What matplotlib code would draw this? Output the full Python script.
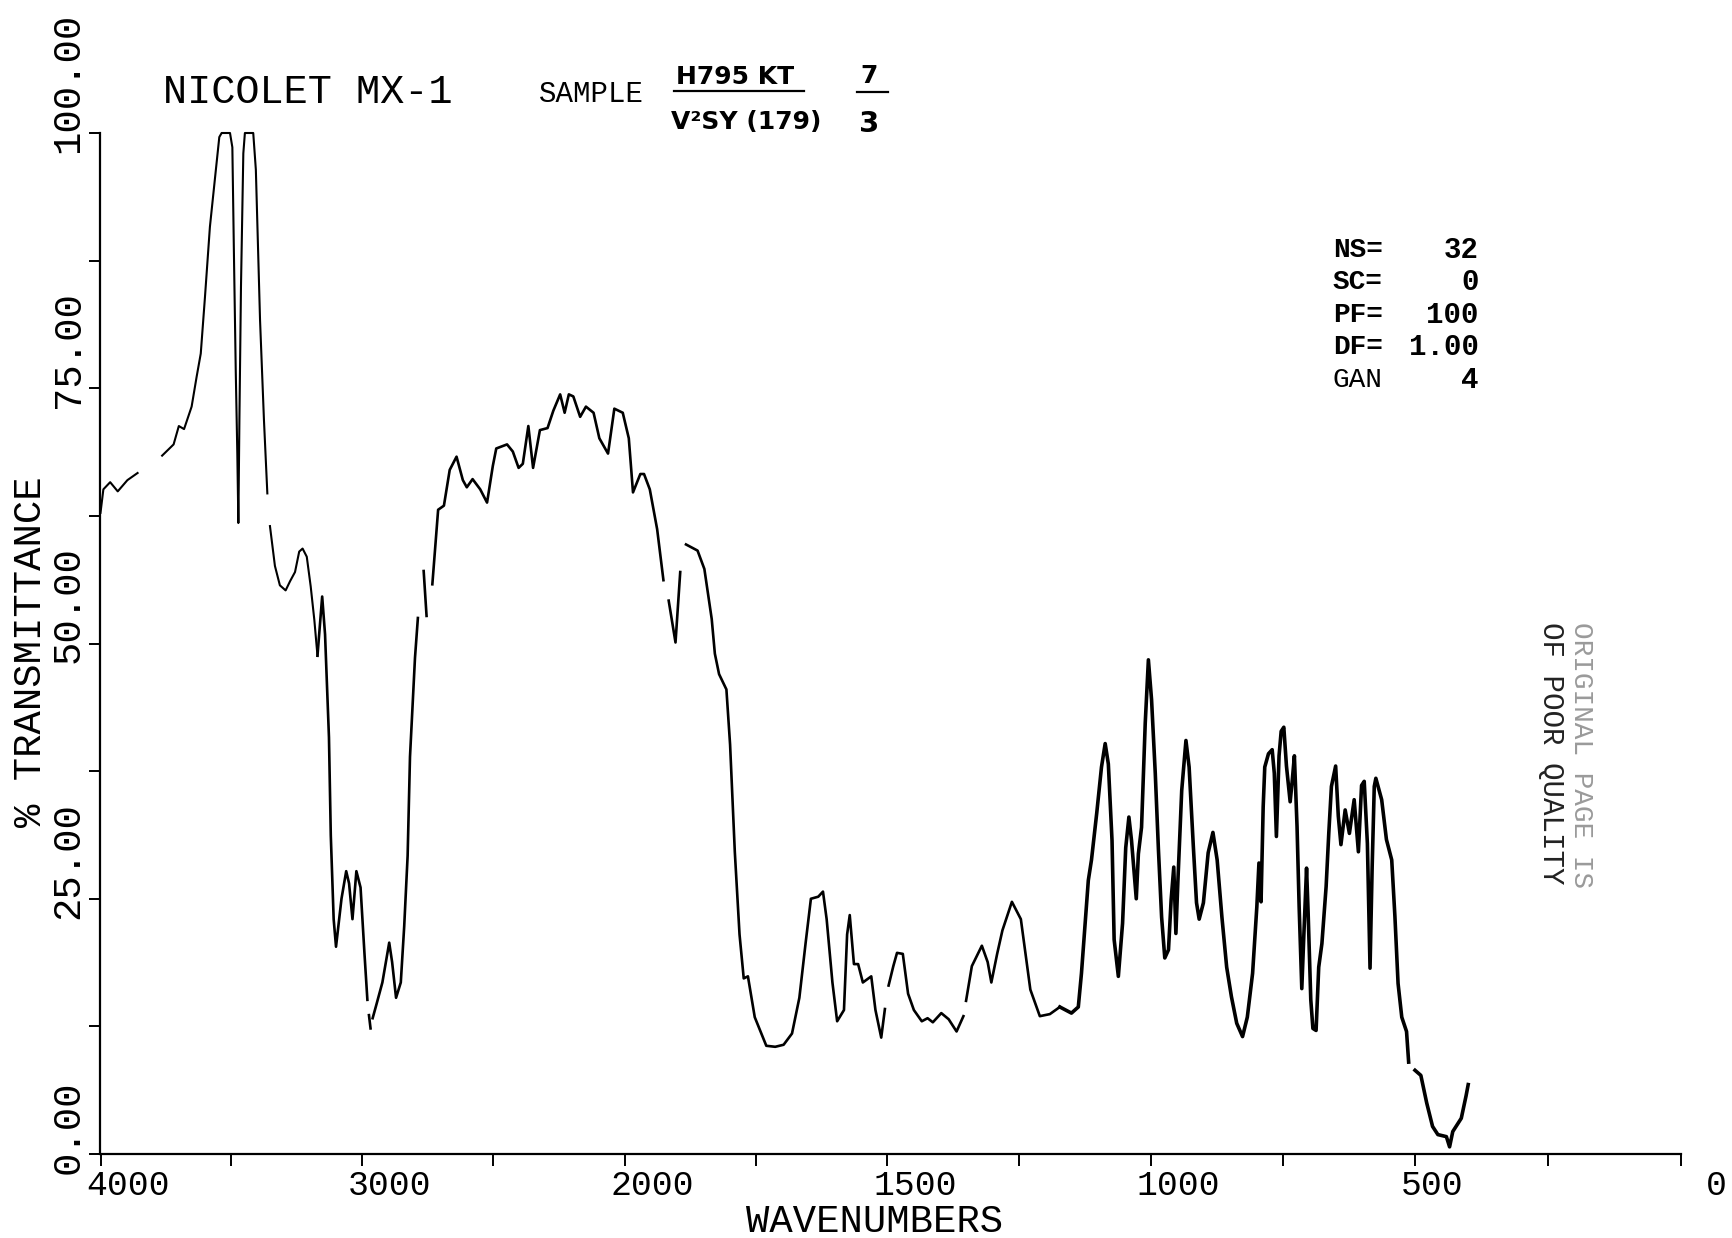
import numpy as np
import matplotlib
matplotlib.use("Agg")
import matplotlib.pyplot as plt
from matplotlib.lines import Line2D
from matplotlib.transforms import ScaledTranslation

plt.rcParams['font.family'] = ['Liberation Mono', 'DejaVu Sans Mono']

W, H = 1733, 1238

# nan = pen gap in the old plot
nan = float('nan')

# O-H region, thin pen
wn_a = [
    4000, 3989, 3963, 3934, 3897, 3858, 3835, 3803, 3790, 3764, 3720, 3700, 3680, 3651, 3632, 3616,
    3600, 3581, 3561, 3545, 3536, 3504, 3495, 3489, 3482, 3476, 3472, 3468, 3462, 3453, 3447,
    3415, 3405, 3389, 3374, 3361, 3358, 3351, 3332, 3313, 3291, 3274, 3255, 3239, 3226, 3210, 3195,
    3181, 3169,
]
t_a = [
    62.8, 65.1, 65.8, 64.9, 66.0, 66.7, nan, 67.2, nan, 68.4, 69.5, 71.3, 71.0, 73.2, 76.1, 78.4,
    83.9, 90.8, 95.7, 99.6, 100, 100, 98.6, 88.2, 76.7, 68.6, 61.8, 71.9, 84.9, 98.0, 100,
    100, 96.4, 81.7, 71.9, 64.7, nan, 61.5, 57.6, 55.7, 55.2, 56.1, 57.0, 59.0, 59.3, 58.5, 55.6,
    52.3, 48.8,
]

# middle of the trace
wn_b = [
    3169, 3151, 3140, 3125, 3118, 3107,
    3098, 3077, 3059, 3048, 3035, 3020, 3004, 2989, 2978, 2975, 2972, 2966, 2962, 2958, 2943, 2921, 2895,
    2884, 2869, 2851, 2838, 2825, 2816, 2797, 2786, 2775, 2764, 2753, 2742, 2731, 2709, 2687,
    2665, 2639, 2615, 2600, 2578, 2549, 2523, 2501, 2488, 2447, 2425, 2403, 2387, 2366,
    2348, 2322, 2293, 2271, 2245, 2228, 2212, 2195, 2169, 2147, 2118, 2096, 2063, 2039,
    2007, 1992, 1984, 1970, 1963, 1952, 1938, 1926, 1920, 1916, 1903, 1894, 1888, 1883, 1861,
    1848, 1834, 1828, 1820, 1806, 1799, 1790, 1781, 1773, 1765, 1752, 1730, 1713, 1697,
    1681, 1667, 1655, 1645, 1631, 1622, 1615, 1604, 1595, 1582, 1576, 1571, 1563, 1555,
    1546, 1530, 1522, 1511, 1504, 1501, 1497, 1488, 1481, 1470, 1460, 1449, 1434, 1423, 1413,
    1397, 1383, 1368, 1355, 1352, 1350, 1339, 1320, 1309, 1302, 1291, 1281, 1263, 1246,
    1228, 1210, 1191, 1172,
]
t_b = [
    48.8, 54.6, 50.9, 40.8, 31.2, 23.0,
    20.3, 25.0, 27.7, 26.5, 23.0, 27.7, 26.1, 19.6, 15.1, nan, 13.6, 12.3, nan, 13.3, 14.7, 16.8, 20.7,
    18.8, 15.3, 16.8, 22.3, 29.2, 38.9, 48.6, 52.5, nan, 57.1, 52.7, nan, 55.8, 63.1, 63.5,
    67.0, 68.3, 66.0, 65.3, 66.1, 65.1, 63.8, 67.4, 69.1, 69.5, 68.8, 67.2, 67.6, 71.3,
    67.2, 70.9, 71.1, 72.8, 74.4, 72.6, 74.4, 74.2, 72.2, 73.2, 72.6, 70.1, 68.6, 73.0,
    72.6, 70.1, 64.8, 66.6, 66.6, 65.1, 61.2, 56.2, nan, 54.2, 50.1, 57.0, nan, 59.7, 59.1,
    57.3, 52.4, 49.0, 47.0, 45.5, 40.1, 29.6, 21.5, 17.2, 17.4, 13.4, 10.6, 10.5, 10.7,
    11.8, 15.3, 20.7, 25.0, 25.2, 25.7, 23.0, 16.8, 13.0, 14.1, 21.5, 23.4, 18.6, 18.6,
    16.8, 17.4, 14.1, 11.4, 14.2, nan, 16.5, 18.4, 19.7, 19.6, 15.7, 14.1, 13.0, 13.3, 12.9,
    13.8, 13.2, 12.0, 13.5, nan, 15.0, 18.4, 20.4, 18.8, 16.8, 19.6, 21.9, 24.7, 23.0,
    16.1, 13.5, 13.7, 14.4,
]

# fingerprint region, heavier pen
wn_c = [
    1172, 1150, 1137, 1131, 1118, 1112, 1102, 1093, 1086, 1080, 1073, 1069, 1061, 1053, 1047,
    1041, 1036, 1027, 1023, 1017, 1010, 1004, 998, 991, 985, 979, 973, 966, 961, 956, 952, 948,
    941, 933, 927, 919, 913, 908, 900, 891, 882, 874, 865, 856, 847, 837, 826, 817, 807, 799,
    795, 791, 787, 784, 777, 770, 766, 762, 757, 753, 748, 743, 736, 732, 728, 723, 719, 714,
    710, 705, 702, 697, 693, 687, 682, 676, 668, 663, 658, 650, 645, 640, 632, 624, 615, 607,
    601, 596, 590, 585, 581, 577, 574, 563, 554, 544, 538, 532, 525, 516, 512, 505, 500, 489,
    478, 467, 457, 441, 435, 429, 413, 404, 400,
]
t_c = [
    14.4, 13.8, 14.4, 17.7, 26.8, 28.8, 33.4, 37.9, 40.2, 38.2, 30.7, 21.0, 17.4, 22.6, 30.0,
    33.0, 30.7, 25.0, 29.4, 32.0, 42.2, 48.4, 44.5, 37.3, 29.8, 23.2, 19.2, 20.0, 24.9, 28.1, 21.6, 27.0,
    35.6, 40.5, 37.9, 30.1, 24.6, 23.0, 24.6, 29.5, 31.5, 28.8, 23.2, 18.3, 15.4, 12.8, 11.5, 13.4, 17.7, 24.2,
    28.5, 24.7, 34.0, 37.9, 39.2, 39.6, 37.3, 31.1, 39.0, 41.4, 41.8, 38.0, 34.5, 36.6, 39.0, 32.1, 24.2, 16.2,
    21.6, 28.0, 23.6, 15.1, 12.3, 12.1, 18.3, 20.6, 26.2, 31.4, 36.0, 38.0, 33.1, 30.3, 33.7, 31.4, 34.7, 29.6,
    36.1, 36.5, 30.4, 18.2, 28.1, 36.0, 36.8, 34.7, 30.8, 28.8, 23.3, 16.7, 13.4, 12.0, 9.0, nan, 8.2, 7.7,
    5.0, 2.7, 1.9, 1.7, 0.7, 2.2, 3.5, 5.7, 6.8,
]

x_ticks = [4000, 3500, 3000, 2500, 2000, 1750, 1500, 1250, 1000, 750, 500, 250, 0]
x_labels = ['4000', '', '3000', '', '2000', '', '1500', '', '1000', '', '500', '', '0']
y_ticks = [0, 12.5, 25, 37.5, 50, 62.5, 75, 87.5, 100]
y_labels = ['0.00', '', '25.00', '', '50.00', '', '75.00', '', '100.00']

info_names = ['NS=', 'SC=', 'PF=', 'DF=', 'GAN']
info_values = ['32', '0', '100', '1.00', '4']

# the plotter changes scale at 2000 cm-1, pixel distances
scale_wn = [0, 500, 1000, 1500, 2000, 3000, 4000]
scale_pos = [0, 266, 530.5, 794, 1056.4, 1319.4, 1580.5]

def forward(v):
    return np.interp(v, scale_wn, scale_pos)

def inverse(v):
    return np.interp(v, scale_pos, scale_wn)

def fx(px):
    return px / W

def fy(px):
    return 1 - px / H

fig = plt.figure(figsize=(W / 100, H / 100), dpi=100)
ax = fig.add_axes([fx(100.5), fy(1154), (1681 - 100.5) / W, (1154 - 133) / H])
ax.set_xscale('function', functions=(forward, inverse))
ax.set_xlim(4000, 0)
ax.set_ylim(0, 100)

ax.plot(wn_a, t_a, color='black', lw=1.5, clip_on=False)
ax.plot(wn_b, t_b, color='black', lw=1.9, clip_on=False)
ax.plot(wn_c, t_c, color='black', lw=2.6, clip_on=False)

for s in ['top', 'right']:
    ax.spines[s].set_visible(False)
for s in ['left', 'bottom']:
    ax.spines[s].set_linewidth(1.6)

ax.set_xticks(x_ticks)
ax.set_xticklabels(x_labels, fontsize=25)
ax.minorticks_off()
ax.tick_params(axis='x', direction='out', length=8.5, width=1.4, pad=2)
ax.set_yticks(y_ticks)
ax.set_yticklabels(y_labels, fontsize=28, rotation=90, va='bottom')
ax.tick_params(axis='y', direction='out', length=8, width=1.4, pad=2)

# labels start just left of their tick, and "0" sits right of it
for lab in ax.get_xticklabels():
    lab.set_ha('left')
    dx = 25 if lab.get_text() == '0' else -14
    lab.set_transform(lab.get_transform() + ScaledTranslation(dx / 100, 0, fig.dpi_scale_trans))
for lab in ax.get_yticklabels():
    lab.set_transform(lab.get_transform() + ScaledTranslation(0, -20 / 100, fig.dpi_scale_trans))

fig.text(fx(875), fy(1222), 'WAVENUMBERS', fontsize=28, ha='center', va='center')
fig.text(fx(31), fy(652), '% TRANSMITTANCE', fontsize=28, rotation=90, ha='center', va='center')
fig.text(fx(163), fy(92), 'NICOLET MX-1', fontsize=29, ha='left', va='center')
fig.text(fx(539), fy(94), 'SAMPLE', fontsize=21, ha='left', va='center')

# handwritten sample id
fig.text(fx(676), fy(77), 'H795 KT', fontsize=18, weight='bold', family='DejaVu Sans', ha='left', va='center')
fig.text(fx(671), fy(122), 'V²SY (179)', fontsize=18, weight='bold', family='DejaVu Sans', ha='left', va='center')
fig.text(fx(869), fy(76), '7', fontsize=18, weight='bold', family='DejaVu Sans', ha='center', va='center')
fig.text(fx(869), fy(124), '3', fontsize=21, weight='bold', family='DejaVu Sans', ha='center', va='center')
fig.add_artist(Line2D([fx(674), fx(804)], [fy(91), fy(91)], color='black', lw=1.6))
fig.add_artist(Line2D([fx(857), fx(888)], [fy(92), fy(92)], color='black', lw=1.6))

info_rows = [250, 282, 315, 347, 380]
for name, val, row in zip(info_names, info_values, info_rows):
    w = 'normal' if name == 'GAN' else 'bold'
    fig.text(fx(1333), fy(row), name, fontsize=20, weight=w, ha='left', va='center')
    fig.text(fx(1479), fy(row), val, fontsize=21, weight='bold', ha='right', va='center')

fig.text(fx(1551), fy(622), 'OF POOR QUALITY', fontsize=21, rotation=-90, ha='center', va='top', color='#222222')
fig.text(fx(1581), fy(622), 'ORIGINAL PAGE IS', fontsize=20, rotation=-90, ha='center', va='top', color='#9a9a9a')

fig.savefig('out.png', dpi=100)
